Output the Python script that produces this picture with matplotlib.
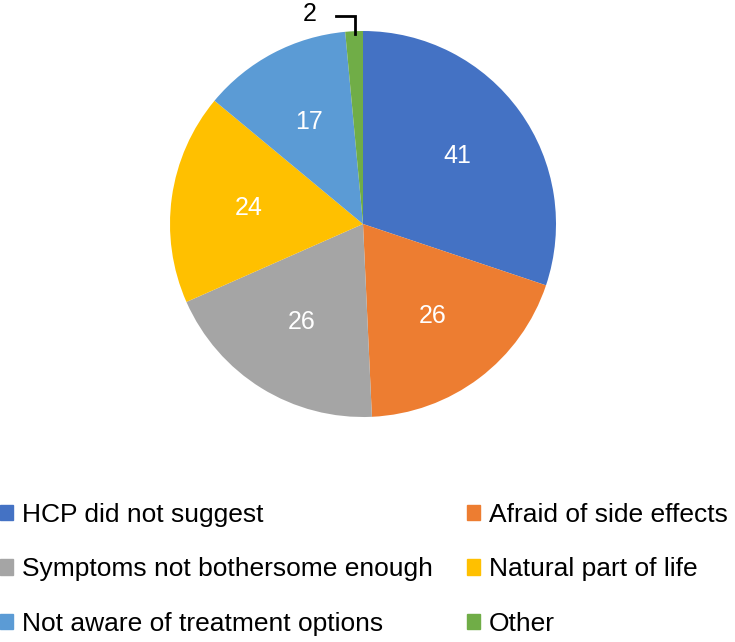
import matplotlib.pyplot as plt
from matplotlib.patches import Patch

plt.rcParams['font.family'] = ['Liberation Sans', 'DejaVu Sans']

reasons = ['HCP did not suggest', 'Afraid of side effects',
           'Symptoms not bothersome enough', 'Natural part of life',
           'Not aware of treatment options', 'Other']
counts = [41, 26, 26, 24, 17, 2]
colors = ['#4472C4', '#ED7D31', '#A5A5A5', '#FFC000', '#5B9BD5', '#70AD47']

W, H = 735, 642
fig = plt.figure(figsize=(W / 100, H / 100), dpi=100)
ax = fig.add_axes([0, 0, 1, 1])

total = sum(counts)
wedges, texts, autotexts = ax.pie(
    counts, colors=colors, startangle=90, counterclock=False,
    center=(363, H - 224), radius=193,
    autopct=lambda p: '%d' % round(p * total / 100), pctdistance=0.6,
    textprops=dict(color='white', fontsize=18))

# small slice: label sits outside with a bracket leader line
autotexts[-1].set_color('black')
autotexts[-1].set_position((310, H - 14))
ax.plot([336, 355, 355], [H - 16, H - 16, H - 34], color='black', lw=2,
        solid_joinstyle='miter')

ax.set_xlim(0, W)
ax.set_ylim(0, H)
ax.set_aspect('equal')
ax.axis('off')

# row-major order as in the original legend
order = [0, 2, 4, 1, 3, 5]
handles = [Patch(color=colors[i]) for i in order]
fig.legend(handles, [reasons[i] for i in order], ncol=2, loc='upper left',
           bbox_to_anchor=(0, 1 - 503 / H), frameon=False, fontsize=19,
           handlelength=0.5, handleheight=0.5, handletextpad=0.35,
           labelspacing=1.15, columnspacing=1.27, borderpad=0, borderaxespad=0)

fig.savefig('out.png', dpi=100)
